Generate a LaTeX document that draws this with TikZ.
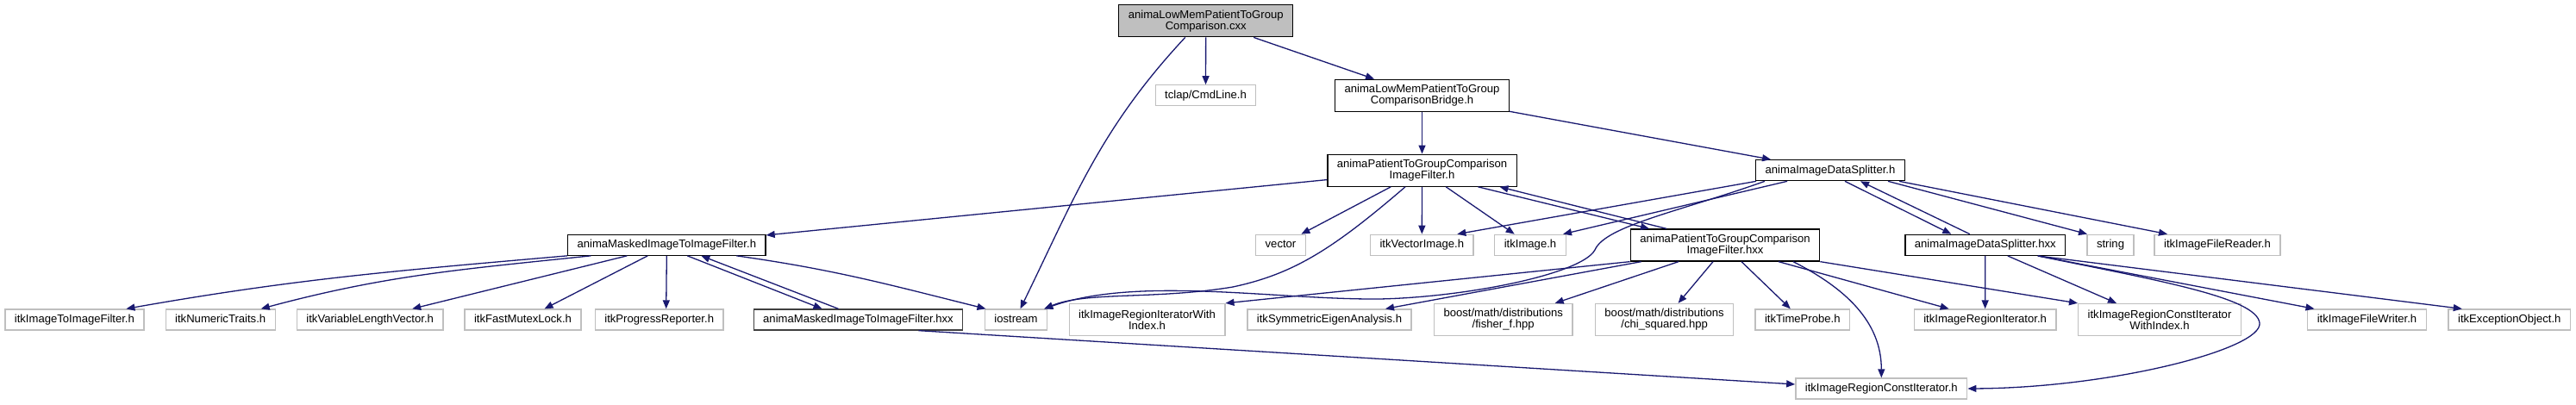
\documentclass[tikz,border=0pt]{standalone}
\usepackage{fontspec}
\setmainfont{Liberation Sans}
\usetikzlibrary{arrows.meta}

\definecolor{edgeblue}{HTML}{191970}
\definecolor{grey75}{HTML}{BFBFBF}

\newcommand*{\picw}{2988}
\newcommand*{\pich}{469}

\begin{document}
\begin{tikzpicture}
[
	x=1pt,y=1pt,
	file/.style={rectangle,draw=black,fill=white,line width=1.3pt,inner xsep=11pt,inner ysep=0pt,minimum height=24pt,font=\fontsize{13.1}{13}\selectfont},
	oneline/.style={text height=9.4pt,text depth=2.7pt},
	twoline/.style={align=center,minimum height=37pt},
	extfile/.style={file,draw=grey75},
	mainfile/.style={file,fill=grey75},
	dep/.style={edgeblue,line width=1.3pt,-{Triangle[length=10pt,width=8pt]}}
]

	\useasboundingbox (0,0) rectangle (\picw,\pich);

	% files
	\node[mainfile,twoline] (root) at (1398.7,444.7) {animaLowMemPatientToGroup\\Comparison.cxx};
	\node[extfile,oneline] (tclap) at (1398.5,358.2) {tclap/CmdLine.h};
	\node[file,twoline] (bridge) at (1649.5,358.2) {animaLowMemPatientToGroup\\ComparisonBridge.h};
	\node[file,twoline] (ptgh) at (1649.5,271.3) {animaPatientToGroupComparison\\ImageFilter.h};
	\node[file,oneline] (splith) at (2123,271.3) {animaImageDataSplitter.h};

	\node[file,oneline] (maskh) at (773.3,184.8) {animaMaskedImageToImageFilter.h};
	\node[extfile,oneline] (vector) at (1485.5,184.7) {vector};
	\node[extfile,oneline] (itkvec) at (1649.3,184.7) {itkVectorImage.h};
	\node[extfile,oneline] (itkimg) at (1775,184.7) {itkImage.h};
	\node[file,twoline] (ptghxx) at (2001,184.5) {animaPatientToGroupComparison\\ImageFilter.hxx};
	\node[file,oneline] (splithxx) at (2302.8,184.7) {animaImageDataSplitter.hxx};
	\node[extfile,oneline] (string) at (2448,184.7) {string};
	\node[extfile,oneline] (reader) at (2572,184.7) {itkImageFileReader.h};

	\node[extfile,oneline] (toimg) at (86.4,98) {itkImageToImageFilter.h};
	\node[extfile,oneline] (numtr) at (255.7,98) {itkNumericTraits.h};
	\node[extfile,oneline] (varlen) at (429.2,98) {itkVariableLengthVector.h};
	\node[extfile,oneline] (mutex) at (606.5,98) {itkFastMutexLock.h};
	\node[extfile,oneline] (progress) at (764.7,98) {itkProgressReporter.h};
	\node[file,oneline,draw=black!75] (maskhxx) at (995.5,98) {animaMaskedImageToImageFilter.hxx};
	\node[extfile,oneline] (iostream) at (1178.5,98) {iostream};
	\node[extfile,twoline] (rgiterwi) at (1330.5,98) {itkImageRegionIteratorWith\\Index.h};
	\node[extfile,oneline] (symeig) at (1542,98) {itkSymmetricEigenAnalysis.h};
	\node[extfile,twoline] (fisher) at (1743.7,98) {boost/math/distributions\\/fisher\_f.hpp};
	\node[extfile,twoline] (chisq) at (1930.6,98) {boost/math/distributions\\/chi\_squared.hpp};
	\node[extfile,oneline] (timeprobe) at (2090.8,98) {itkTimeProbe.h};
	\node[extfile,oneline] (rgiter) at (2302.6,98) {itkImageRegionIterator.h};
	\node[extfile,twoline] (rgconstwi) at (2505,98) {itkImageRegionConstIterator\\WithIndex.h};
	\node[extfile,oneline] (writer) at (2745.5,98) {itkImageFileWriter.h};
	\node[extfile,oneline] (exception) at (2910.8,98) {itkExceptionObject.h};

	\node[extfile,oneline] (rgconst) at (2182.3,18) {itkImageRegionConstIterator.h};

	% includes of the .cxx and the bridge
	\draw[dep] (root) -- (tclap);
	\draw[dep] (root) -- (bridge);
	\draw[dep] ([xshift=-24pt]root.south) to[out=-133,in=64] ([xshift=5pt]iostream.north);
	\draw[dep] (bridge) -- (ptgh);
	\draw[dep] (bridge) -- (splith);

	% comparison filter header
	\draw[dep] (ptgh) -- (maskh);
	\draw[dep] (ptgh) -- (vector);
	\draw[dep] ([xshift=-19.5pt]ptgh.south) .. controls (1545,179) and (1500,151) .. (1430,136) .. controls (1340,121) and (1260,131) .. ([xshift=-4pt]iostream.north east);
	\draw[dep] (ptgh) -- (itkvec);
	\draw[dep] (ptgh) -- (itkimg);
	\draw[dep] ([xshift=65pt]ptgh.south) -- ([xshift=-88pt]ptghxx.north);
	\draw[dep] ([xshift=-68pt]ptghxx.north) -- ([xshift=90pt]ptgh.south);

	% splitter header
	\draw[dep] ([xshift=-86pt]splith.south) -- ([xshift=41pt]itkvec.north);
	\draw[dep] ([xshift=-50pt]splith.south) -- ([xshift=38pt]itkimg.north);
	\draw[dep] ([xshift=-76pt]splith.south) .. controls (1950,224) and (1862,207) .. (1850,179) .. controls (1835,151) and (1700,124) .. (1600,122) .. controls (1480,121) and (1320,149) .. ([xshift=-4pt]iostream.north east);
	\draw[dep] ([xshift=17pt]splith.south) -- ([xshift=-39.5pt]splithxx.north);
	\draw[dep] ([xshift=-18pt]splithxx.north) -- ([xshift=35pt]splith.south);
	\draw[dep] ([xshift=67pt]splith.south) -- ([xshift=-27pt]string.north);
	\draw[dep] ([xshift=80pt]splith.south) -- ([xshift=-58pt]reader.north);

	% splitter implementation
	\draw[dep] (splithxx) -- (rgiter);
	\draw[dep] ([xshift=26pt]splithxx.south) -- ([xshift=-50pt]rgconstwi.north);
	\draw[dep] ([xshift=61pt]splithxx.south) -- ([xshift=-61pt]writer.north);
	\draw[dep] ([xshift=61pt]splithxx.south) -- ([xshift=-55pt]exception.north);
	\draw[dep] ([xshift=61pt]splithxx.south) .. controls (2500,144) and (2618,124) .. (2621,94) .. controls (2624,64) and (2450,19) .. (rgconst.east);

	% comparison filter implementation
	\draw[dep] (ptghxx.south west) -- (rgiterwi.north east);
	\draw[dep] ([xshift=13pt]ptghxx.south west) -- ([xshift=65pt]symeig.north);
	\draw[dep] ([xshift=-54pt]ptghxx.south) -- ([xshift=60pt]fisher.north);
	\draw[dep] ([xshift=-14pt]ptghxx.south) -- ([xshift=16pt]chisq.north);
	\draw[dep] ([xshift=19pt]ptghxx.south) -- ([xshift=-14pt]timeprobe.north);
	\draw[dep] ([xshift=62pt]ptghxx.south) -- ([xshift=-42pt]rgiter.north);
	\draw[dep] ([xshift=79pt]ptghxx.south) to[out=-27,in=90] (rgconst.north);
	\draw[dep] (ptghxx.south east) -- (rgconstwi.north west);

	% masked filter
	\draw[dep] (maskh.south west) to[out=185,in=10] ([xshift=60pt]toimg.north);
	\draw[dep] ([xshift=-88pt]maskh.south) to[out=186,in=15] ([xshift=47pt]numtr.north);
	\draw[dep] ([xshift=-46pt]maskh.south) -- ([xshift=49pt]varlen.north);
	\draw[dep] ([xshift=-22pt]maskh.south) -- ([xshift=25pt]mutex.north);
	\draw[dep] (maskh.south) -- ([xshift=8pt]progress.north);
	\draw[dep] ([xshift=24pt]maskh.south) -- ([xshift=-42pt]maskhxx.north);
	\draw[dep] ([xshift=-23pt]maskhxx.north) -- ([xshift=40pt]maskh.south);
	\draw[dep] ([xshift=81pt]maskh.south) to[out=-8,in=166] ([xshift=-35pt]iostream.north);
	\draw[dep] ([xshift=70pt]maskhxx.south) -- ([yshift=5pt]rgconst.west);

\end{tikzpicture}
\end{document}
